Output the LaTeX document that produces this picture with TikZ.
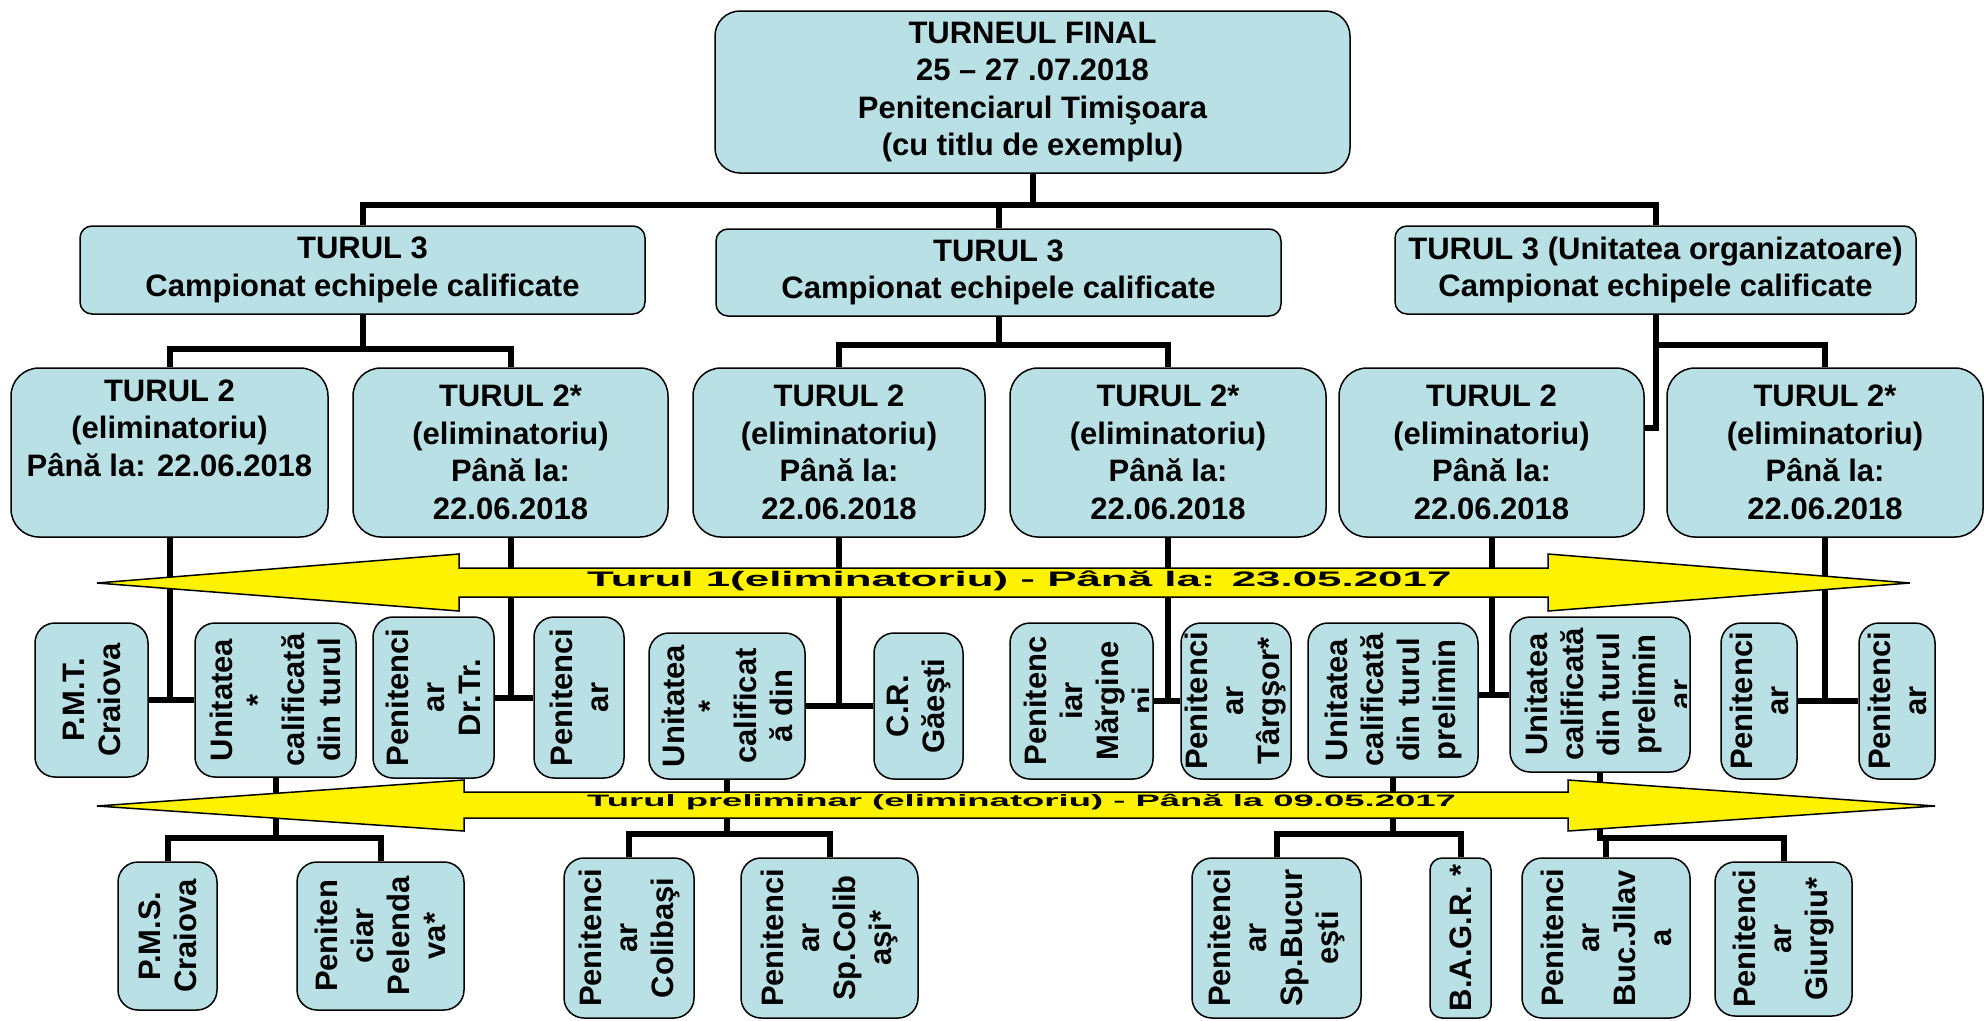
\documentclass[tikz,border=0pt]{standalone}
\usepackage{fontspec}
\setmainfont{Liberation Sans}
\usepackage{graphicx}

\definecolor{boxblue}{RGB}{185,224,228}

\begin{document}
\begin{tikzpicture}[x=1pt,y=-1pt,
      box/.style={draw,line width=1.5pt,fill=boxblue,align=center,inner sep=2pt,
        font=\fontsize{31}{37.5}\selectfont\bfseries},
      final/.style={box,rounded corners=25pt},
      tur3/.style={box,rounded corners=12pt},
      tur2/.style={box,rounded corners=28pt},
      unit/.style={box,rotate=90,inner sep=0pt,rounded corners=20pt,
        font=\fontsize{31}{36}\selectfont\bfseries},
      bare/.style={unit,draw=none,fill=none},
      band/.style={draw,line width=1.5pt,fill=yellow},
      bandtext/.style={anchor=west,inner sep=0pt,font=\bfseries},
      every edge/.append style={line width=6pt},
      fork/.style={to path={(\tikztostart) -- ++(0,#1) -| (\tikztotarget)}},
      vh/.style={to path={|- (\tikztotarget)}}]
      \useasboundingbox (0,0) rectangle (1988,1020);

      \node[final,minimum width=635pt,minimum height=162pt] (final) at (1032.5,92)
        {TURNEUL FINAL\\25 – 27 .07.2018\\Penitenciarul Timişoara\\(cu titlu de exemplu)};

      \node[tur3,minimum width=565pt,minimum height=88pt] (t3a) at (362.5,270)
        {TURUL 3\\Campionat echipele calificate};
      \node[tur3,minimum width=565pt,minimum height=87pt] (t3b) at (998.5,272.5)
        {TURUL 3\\Campionat echipele calificate};
      \node[tur3,minimum width=521pt,minimum height=88pt] (t3c) at (1655.5,270)
        {TURUL 3 (Unitatea organizatoare)\\Campionat echipele calificate};

      \node[tur2,minimum width=317pt,minimum height=169pt] (t2a) at (169.5,452.5)
        {TURUL 2\\(eliminatoriu)\\Până la: 22.06.2018\\ \strut};
      \node[tur2,minimum width=315pt,minimum height=169pt] (t2b) at (510.5,452.5)
        {TURUL 2*\\(eliminatoriu)\\Până la:\\22.06.2018};
      \node[tur2,minimum width=292pt,minimum height=169pt] (t2c) at (839,452.5)
        {TURUL 2\\(eliminatoriu)\\Până la:\\22.06.2018};
      \node[tur2,minimum width=316pt,minimum height=169pt] (t2d) at (1168,452.5)
        {TURUL 2*\\(eliminatoriu)\\Până la:\\22.06.2018};
      \node[tur2,minimum width=305pt,minimum height=169pt] (t2e) at (1491.5,452.5)
        {TURUL 2\\(eliminatoriu)\\Până la:\\22.06.2018};
      \node[tur2,minimum width=316pt,minimum height=169pt] (t2f) at (1825,452.5)
        {TURUL 2*\\(eliminatoriu)\\Până la:\\22.06.2018};

      \node[unit,minimum width=154pt,minimum height=113pt] (u1) at (91.5,700) {P.M.T.\\Craiova};
      \node[unit,minimum width=154pt,minimum height=161pt] (u2) at (275.5,700) {Unitatea\\*\\calificată\\din turul};
      \node[unit,minimum width=161pt,minimum height=121pt] (u3) at (433.5,697.5) {Penitenci\\ar\\Dr.Tr.};
      \node[unit,minimum width=161pt,minimum height=90pt] (u4) at (579,697.5) {Penitenci\\ar};
      \node[unit,minimum width=146pt,minimum height=156pt] (u5) at (727,706) {Unitatea\\*\\calificat\\ă din};
      \node[unit,minimum width=146pt,minimum height=89pt] (u6) at (918.5,706) {C.R.\\Găeşti};
      \node[unit,minimum width=156pt,minimum height=143pt] (u7) at (1081.5,701) {};
      \node[unit,minimum width=156pt,minimum height=110pt] (u8) at (1236,701) {Penitenci\\ar\\Târgşor*};
      \node[unit,minimum width=154pt,minimum height=170pt] (u9) at (1393,700) {Unitatea\\calificată\\din turul\\prelimin};
      \node[unit,minimum width=155pt,minimum height=180pt] (u10) at (1600,694.5) {};
      \node[unit,minimum width=156pt,minimum height=76pt] (u11) at (1759,701) {Penitenci\\ar};
      \node[unit,minimum width=156pt,minimum height=76pt] (u12) at (1897,701) {Penitenci\\ar};

      \begin{scope}
        \clip (1010,623) rectangle (1148,779);
        \node[bare] (u7txt) at ([xshift=7.5pt]u7.center) {Penitenc\\iar\\Mărgine\\ni};
      \end{scope}
      \begin{scope}
        \clip (1510,617) rectangle (1686,772);
        \node[bare] (u10txt) at ([xshift=8pt]u10.center) {Unitatea\\calificată\\din turul\\prelimin\\ar};
      \end{scope}

      \node[unit,minimum width=148pt,minimum height=99pt] (p1) at (167.5,936) {P.M.S.\\Craiova};
      \node[unit,minimum width=148pt,minimum height=167pt] (p2) at (380.5,936) {Peniten\\ciar\\Pelenda\\va*};
      \node[unit,minimum width=160pt,minimum height=130pt] (p3) at (629,938) {Penitenci\\ar\\Colibaşi};
      \node[unit,minimum width=160pt,minimum height=177pt] (p4) at (829.5,938) {Penitenci\\ar\\Sp.Colib\\aşi*};
      \node[unit,minimum width=160pt,minimum height=169pt] (p5) at (1276.5,938) {Penitenci\\ar\\Sp.Bucur\\eşti};
      \node[unit,minimum width=160pt,minimum height=61pt,rounded corners=12pt] (p6) at (1460.5,938) {B.A.G.R. *};
      \node[unit,minimum width=160pt,minimum height=168pt] (p7) at (1606,938) {Penitenci\\ar\\Buc.Jilav\\a};
      \node[unit,minimum width=154pt,minimum height=137pt] (p8) at (1783.5,939) {Penitenci\\ar\\Giurgiu*};

      \coordinate (e5in) at ([yshift=25pt]t2e.east);

      \path
      (final.south) edge[fork=31] (t3a.north)
      (final.south) edge[fork=31] (t3b.north)
      (final.south) edge[fork=31] (t3c.north)
      (t3a.south) edge[fork=34] (t2a.north)
      (t3a.south) edge[fork=34] (t2b.north)
      (t3b.south) edge[fork=28] (t2c.north)
      (t3b.south) edge[fork=28] (t2d.north)
      (t3c.south) edge[vh] (e5in)
      (t3c.south) edge[fork=30] (t2f.north)

      (t2a.south) edge (t2a.south |- u1.south)
      (t2b.south) edge (t2b.south |- u3.south)
      (t2c.south) edge (t2c.south |- u5.south)
      (t2d.south) edge (t2d.south |- u7.south)
      (t2e.south) edge (t2e.south |- u10.north)
      (t2f.south) edge (t2f.south |- u11.south)
      (u1.south) edge (u2.north)
      (u3.south) edge (u4.north)
      (u5.south) edge (u6.north)
      (u7.south) edge (u8.north)
      (u10.north) edge (u10.north -| u9.south)
      (u11.south) edge (u12.north)

      (u2.west) edge[fork=60] (p1.east)
      (u2.west) edge[fork=60] (p2.east)
      (u5.west) edge[fork=54] (p3.east)
      (u5.west) edge[fork=54] (p4.east)
      (u9.west) edge[fork=56] (p5.east)
      (u9.west) edge[fork=56] (p6.east)
      (u10.west) edge[fork=65] (p7.east)
      (u10.west) edge[fork=65] (p8.east)
      ;

      \filldraw[band] (97,583) -- (459,554) -- (459,568) -- (1548,568) -- (1548,554) -- (1910,583)
        -- (1548,611) -- (1548,597) -- (459,597) -- (459,611) -- cycle;
      \filldraw[band] (97,806) -- (464,780) -- (464,792) -- (1568,792) -- (1568,780) -- (1935,806)
        -- (1568,831) -- (1568,818) -- (464,818) -- (464,831) -- cycle;

      \node[bandtext,font=\fontsize{21}{21}\selectfont\bfseries] (tur1lbl) at (587,581)
        {\scalebox{2.09}[1]{Turul 1(eliminatoriu) - Până la: 23.05.2017}};
      \node[bandtext,font=\fontsize{16.5}{16.5}\selectfont\bfseries] (tur0lbl) at (587,802)
        {\scalebox{2.21}[1]{Turul preliminar (eliminatoriu) - Până la 09.05.2017}};
\end{tikzpicture}
\end{document}
